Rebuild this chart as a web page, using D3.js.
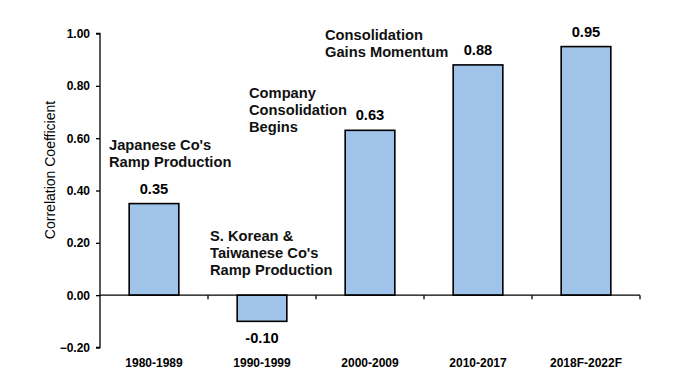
<!DOCTYPE html>
<html><head><meta charset="utf-8">
<script src="https://cdn.jsdelivr.net/npm/d3@7/dist/d3.min.js"></script>
<style>
html,body{margin:0;padding:0;background:#fff;}
svg{display:block;font-family:"Liberation Sans",Arial,sans-serif;}
</style></head>
<body><svg id="chart" width="680" height="379"></svg>
<script>
const categories = ["1980-1989","1990-1999","2000-2009","2010-2017","2018F-2022F"];
const values = [0.35, -0.10, 0.63, 0.88, 0.95];
const valueLabels = ["0.35","-0.10","0.63","0.88","0.95"];
const yTicks = [-0.20, 0.00, 0.20, 0.40, 0.60, 0.80, 1.00];
const annotations = [
  {lines:["Japanese Co's","Ramp Production"], x:109, y:150},
  {lines:["S. Korean &","Taiwanese Co's","Ramp Production"], x:210, y:240.5},
  {lines:["Company","Consolidation","Begins"], x:249, y:98},
  {lines:["Consolidation","Gains Momentum"], x:325, y:40}
];

const svg = d3.select("#chart");
const left = 100, right = 640;
const x = d3.scaleBand().domain(categories).range([left, right]).paddingInner(0.54).paddingOuter(0.27);
const y = d3.scaleLinear().domain([-0.2, 1.0]).range([347.5, 33.5]);

// bars
svg.append("g").selectAll("rect").data(values).join("rect")
  .attr("x", (d,i) => x(categories[i]))
  .attr("width", x.bandwidth())
  .attr("y", d => y(Math.max(0,d)))
  .attr("height", d => Math.abs(y(d) - y(0)))
  .attr("fill", "#a0c3e9")
  .attr("stroke", "#000")
  .attr("stroke-width", 1.6);

// y axis
const yAxis = svg.append("g").attr("transform", `translate(${left},0)`)
  .call(d3.axisLeft(y).tickValues(yTicks).tickFormat(d3.format(".2f")).tickSize(4).tickPadding(6));
yAxis.select(".domain").attr("stroke","#000").attr("stroke-width",1.3).attr("d", `M-4,${y(-0.2)}H0V${y(1)}H-4`);
yAxis.selectAll(".tick line").attr("stroke","#000").attr("stroke-width",1.3);
yAxis.selectAll(".tick text").attr("font-size","12px").attr("font-weight","bold").attr("fill","#000")
  .attr("font-family","'Liberation Sans',Arial,sans-serif");

// x axis at zero
const step = x.step();
const xTickPos = d3.range(1, categories.length + 1).map(i => left + i*step);
const xg = svg.append("g");
xg.append("line").attr("x1", left).attr("x2", right).attr("y1", y(0)).attr("y2", y(0))
  .attr("stroke","#000").attr("stroke-width",1.3);
xg.selectAll("line.t").data(xTickPos).join("line").attr("class","t")
  .attr("x1", d=>d).attr("x2", d=>d).attr("y1", y(0)).attr("y2", y(0)+4)
  .attr("stroke","#000").attr("stroke-width",1.3);

// category labels
svg.append("g").selectAll("text").data(categories).join("text")
  .attr("x", d => x(d) + x.bandwidth()/2)
  .attr("y", 367)
  .attr("text-anchor","middle")
  .attr("font-size","12px").attr("font-weight","bold").attr("fill","#000")
  .text(d => d);

// value labels
svg.append("g").selectAll("text").data(values).join("text")
  .attr("x", (d,i) => x(categories[i]) + x.bandwidth()/2)
  .attr("y", d => d >= 0 ? y(d) - 10 : y(d) + 22)
  .attr("text-anchor","middle")
  .attr("font-size","14.7px").attr("font-weight","bold").attr("fill","#000")
  .text((d,i) => valueLabels[i]);

// annotations
annotations.forEach(a => {
  const t = svg.append("text").attr("x", a.x).attr("y", a.y)
    .attr("font-size","14.7px").attr("font-weight","bold").attr("fill","#111");
  a.lines.forEach((l,i) => t.append("tspan").attr("x", a.x).attr("dy", i===0?0:17.2).text(l));
});

// y axis title
svg.append("text")
  .attr("transform", `translate(55,170) rotate(-90)`)
  .attr("text-anchor","middle")
  .attr("font-size","14px").attr("fill","#000")
  .text("Correlation Coefficient");
</script></body></html>
